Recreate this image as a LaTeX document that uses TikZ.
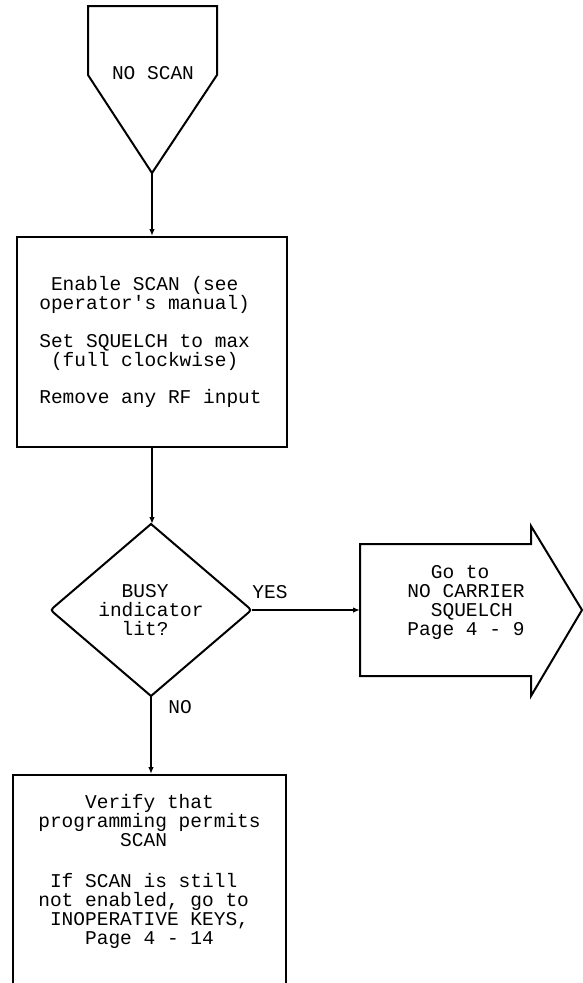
\documentclass[tikz,border=0pt]{standalone}
\usepackage{fontspec}
\newfontfamily\plotfont{Liberation Mono}
\usetikzlibrary{shapes.geometric,arrows.meta,calc}
\newcommand{\hc}{\hphantom{x}}
\begin{document}
\begin{tikzpicture}[x=1pt,y=-1pt,
  line width=2pt,
  txt/.style={font=\plotfont\fontsize{19.5}{19}\selectfont, inner sep=0pt, align=center},
  boxshape/.style={draw, rectangle, inner sep=0pt, line width=2pt},
  flow/.style={-{Latex[length=7pt,width=5.5pt]}, line width=1.9pt}]
\clip (0,0) rectangle (583,983);
\fill[white] (0,0) rectangle (583,983);
% start connector (pentagon)
\coordinate (starttip) at (152,173);
\draw[line join=miter] (88,6) -- (217,6) -- (217,75) -- (starttip) -- (88,75) -- cycle;
\node[txt, anchor=base] (startt) at (153,79) {NO SCAN};
% box 1
\node[boxshape, minimum width=270pt, minimum height=210pt] (box1) at (152,342) {};
\node[txt] (box1t) at (150.5,342) {Enable SCAN (see\hc\\operator's manual)\hc\\[18.5pt]Set SQUELCH to max\hc\\(full clockwise)\hc\\[18.5pt]Remove any RF input};
% decision
\node[shape=diamond, minimum width=199pt, minimum height=170pt, inner sep=0pt, txt] (dec) at (151,610) {BUSY\hc\\indicator\\lit?\hc};
\draw[line join=miter]
  (dec.north) -- ($(dec.east)!7pt!(dec.north)$) .. controls (dec.east) .. ($(dec.east)!7pt!(dec.south)$)
  -- (dec.south) -- ($(dec.west)!7pt!(dec.south)$) .. controls (dec.west) .. ($(dec.west)!7pt!(dec.north)$)
  -- cycle;
% go-to arrow
\coordinate (gotol) at (360,610);
\draw[line join=miter] (360,544) -- (531,544) -- (531,526) -- (582,610) -- (531,696) -- (531,676) -- (360,676) -- cycle;
\node[txt] (gotot) at (466,602) {Go to\hc\\NO CARRIER\\\hc SQUELCH\\Page 4 - 9};
% box 2
\node[boxshape, minimum width=273pt, minimum height=215pt] (box2) at (149.5,882.5) {};
\node[txt] (box2t) at (149.5,871) {Verify that\\programming permits\\SCAN\hc\\[22pt]If SCAN is still\hc\\not enabled, go to\hc\\INOPERATIVE KEYS,\\Page 4 - 14};
% connectors
\draw[flow] (starttip) -- (box1.north);
\draw[flow] (box1.south) -- (box1.south |- dec.north);
\draw[flow] (dec.east) -- (gotol);
\draw[flow] (dec.south) -- (dec.south |- box2.north);
\node[txt, anchor=base] (yes) at (270,598) {YES};
\node[txt, anchor=base] (no) at (180,713) {NO};
\end{tikzpicture}
\end{document}
